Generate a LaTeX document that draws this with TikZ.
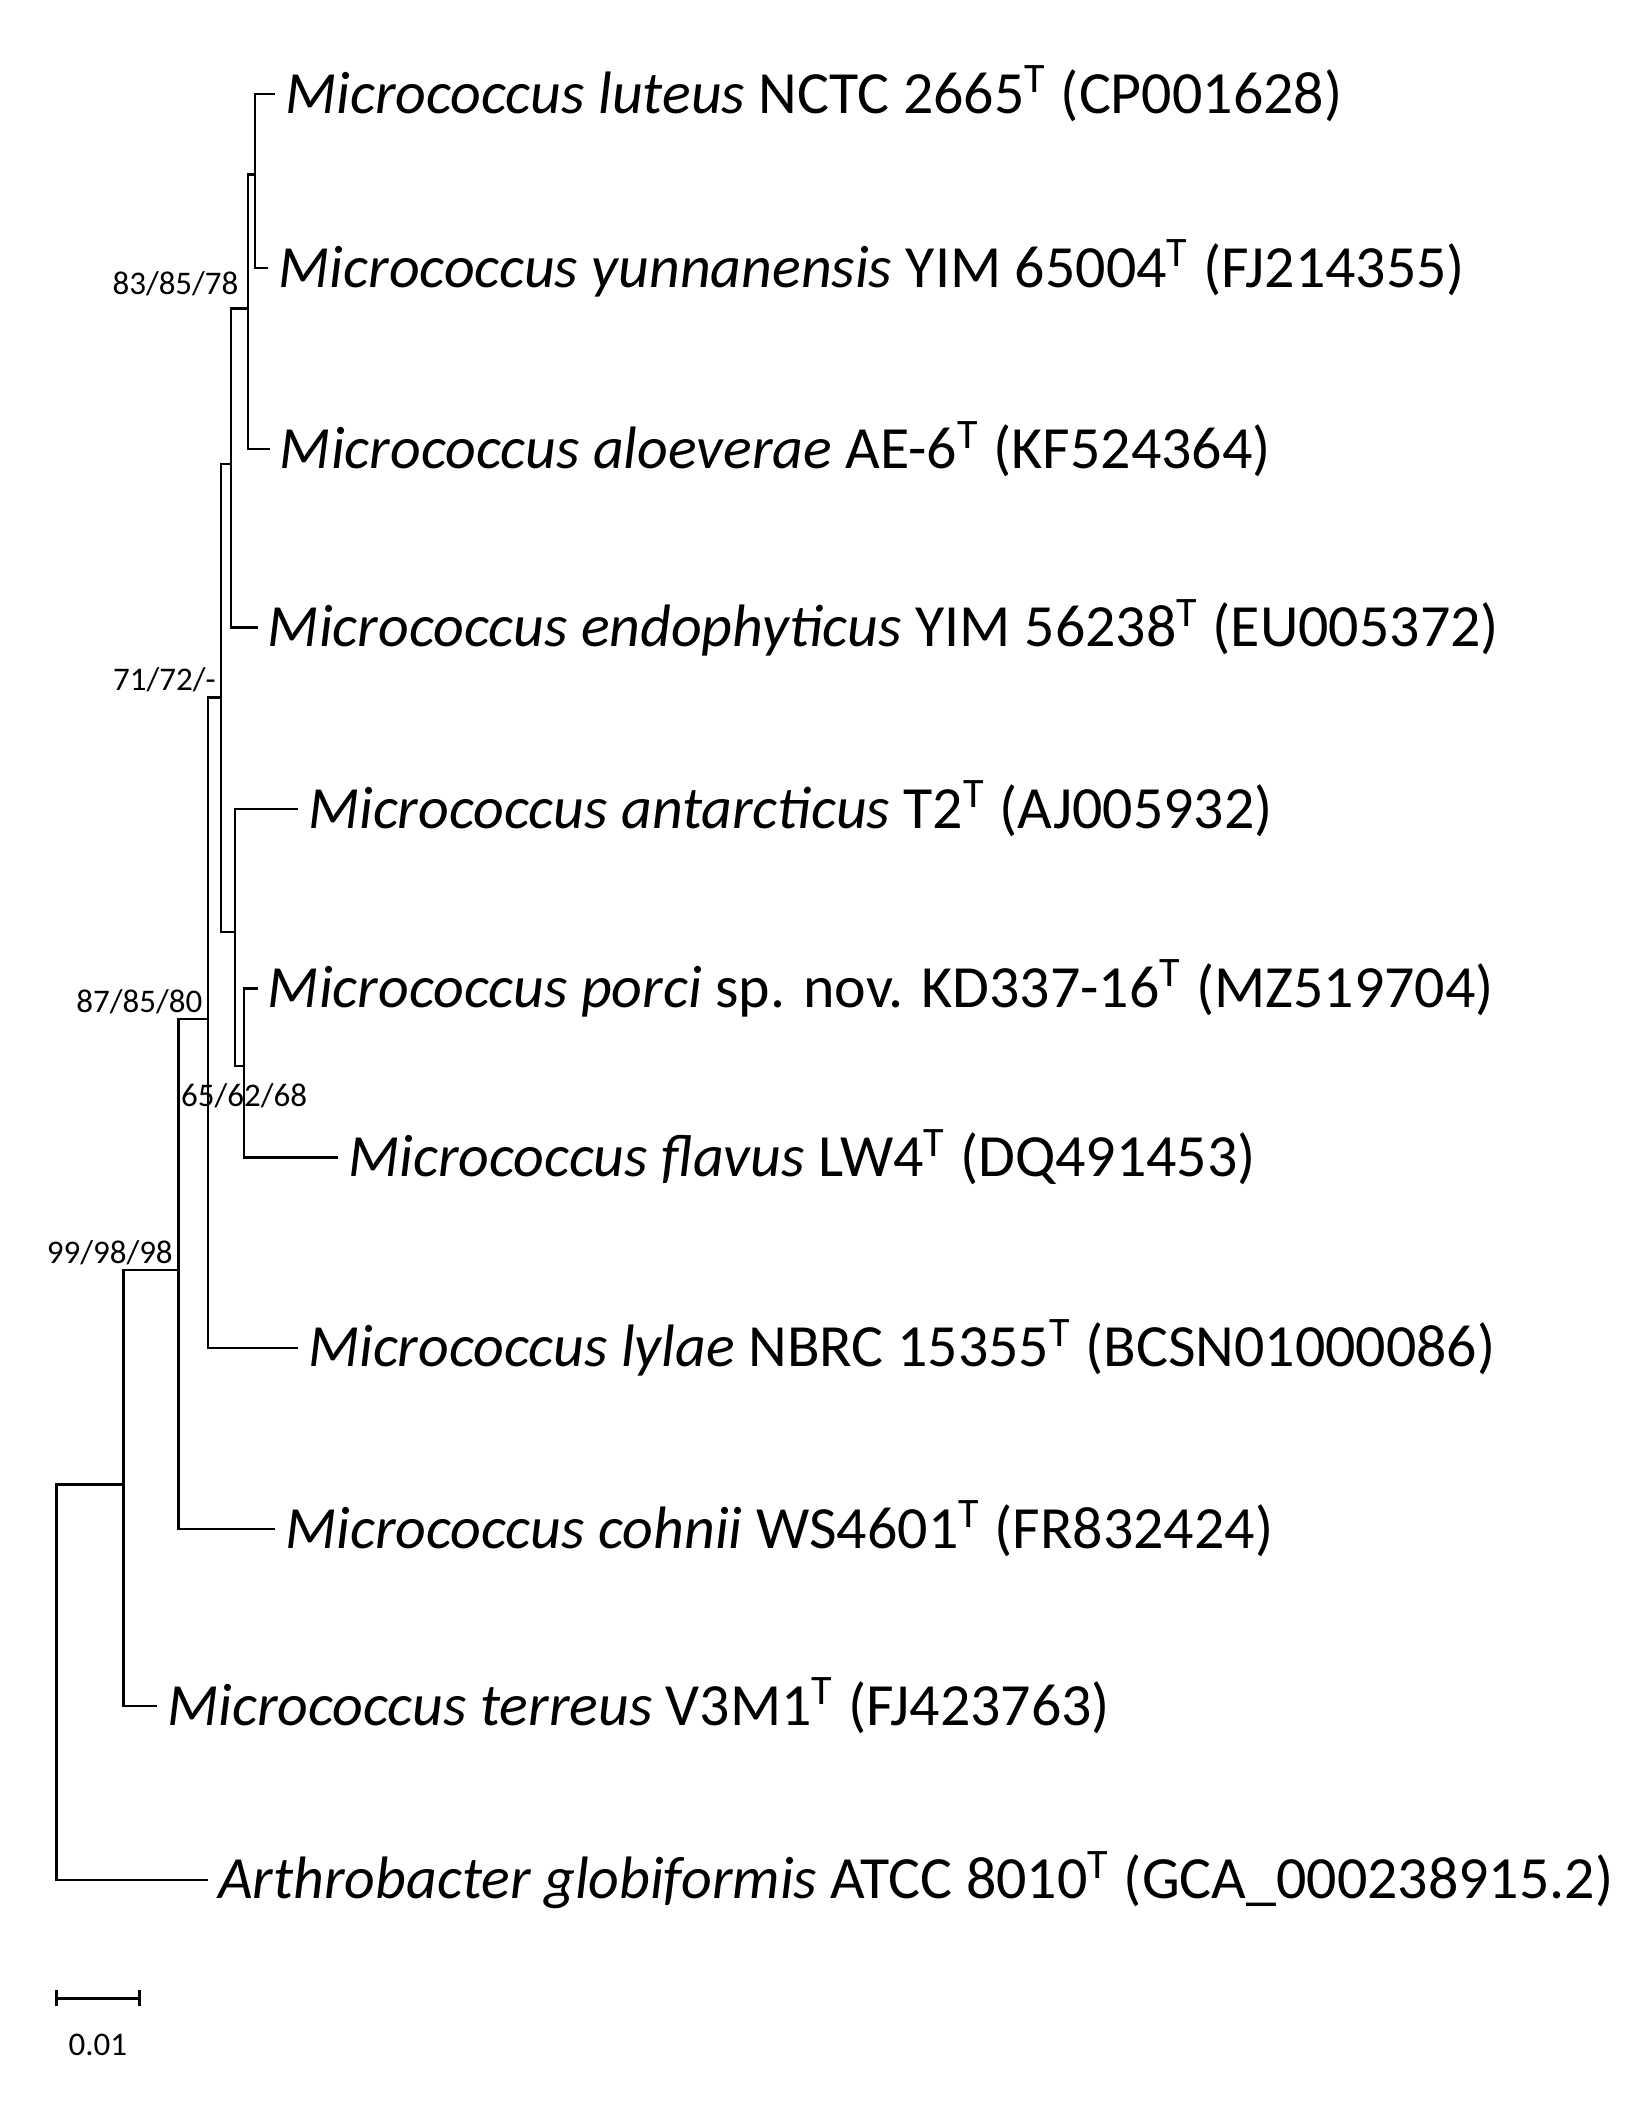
\documentclass[tikz,border=0pt]{standalone}
\usepackage{fontspec}
\setmainfont{Carlito}
\usetikzlibrary{positioning}

\begin{document}
\begin{tikzpicture}[x=0.01cm,y=-0.01cm,
    taxon/.style={anchor=west, inner sep=2pt, font=\fontsize{12.7}{14}\selectfont},
    support/.style={anchor=south east, inner sep=1pt, font=\fontsize{7}{8}\selectfont},
    branch/.style={draw=black, line width=0.5pt}
]

% Canvas
\useasboundingbox (0,0) rectangle (1220,1577);

% Tips
\node[taxon] (luteus) at (205,70) {\textit{Micrococcus luteus} NCTC 2665\textsuperscript{T} (CP001628)};
\node[taxon] (yunnan) at (200,200) {\textit{Micrococcus yunnanensis} YIM 65004\textsuperscript{T} (FJ214355)};
\node[taxon] (aloe) at (201,335) {\textit{Micrococcus aloeverae} AE-6\textsuperscript{T} (KF524364)};
\node[taxon] (endo) at (192,468) {\textit{Micrococcus endophyticus} YIM 56238\textsuperscript{T} (EU005372)};
\node[taxon] (antarc) at (222,603) {\textit{Micrococcus antarcticus} T2\textsuperscript{T} (AJ005932)};
\node[taxon] (porci) at (192,737) {\textit{Micrococcus porci} sp. nov. KD337-16\textsuperscript{T} (MZ519704)};
\node[taxon] (flavus) at (252,863) {\textit{Micrococcus flavus} LW4\textsuperscript{T} (DQ491453)};
\node[taxon] (lylae) at (222,1005) {\textit{Micrococcus lylae} NBRC 15355\textsuperscript{T} (BCSN01000086)};
\node[taxon] (cohnii) at (205,1140) {\textit{Micrococcus cohnii} WS4601\textsuperscript{T} (FR832424)};
\node[taxon] (terreus) at (117,1272) {\textit{Micrococcus terreus} V3M1\textsuperscript{T} (FJ423763)};
\node[taxon] (arthro) at (155,1402) {\textit{Arthrobacter globiformis} ATCC 8010\textsuperscript{T} (GCA\_000238915.2)};

% Internal nodes
\coordinate (nA) at (190,130);
\coordinate (nB) at (185,230);
\coordinate (nC) at (172,346);
\coordinate (nG) at (182,795);
\coordinate (nF) at (175,695);
\coordinate (nD) at (165,520);
\coordinate (nH) at (155,760);
\coordinate (nI) at (133,947);
\coordinate (nJ) at (92,1107);
\coordinate (root) at (42,1250);

% Branches
\draw[branch] (luteus.west) -| (nA) |- (yunnan.west);
\draw[branch] (nA) -| (nB) |- (aloe.west);
\draw[branch] (nB) -| (nC) |- (endo.west);
\draw[branch] (porci.west) -| (nG) |- (flavus.west);
\draw[branch] (antarc.west) -| (nF) |- (nG);
\draw[branch] (nC) -| (nD) |- (nF);
\draw[branch] (nD) -| (nH) |- (lylae.west);
\draw[branch] (nH) -| (nI) |- (cohnii.west);
\draw[branch] (nI) -| (nJ) |- (terreus.west);
\draw[branch] (nJ) -| (root) |- (arthro.west);

% Bootstrap values
\node[support] at (182,225) {83/85/78};
\node[support] at (nD) {71/72/-};
\node[support] at (nH) {87/85/80};
\node[support] at (nI) {99/98/98};
\node[support, anchor=south] at (nG |- 0,830) {65/62/68};

% Scale bar
\coordinate (bar0) at (42,1490);
\coordinate (bar1) at (104,1490);
\draw[branch] (bar0) -- (bar1);
\draw[branch] (bar0) ++(0,-6) -- ++(0,12);
\draw[branch] (bar1) ++(0,-6) -- ++(0,12);
\node[font=\fontsize{7}{8}\selectfont] (barlabel) at (73,1525) {0.01};

\end{tikzpicture}
\end{document}
